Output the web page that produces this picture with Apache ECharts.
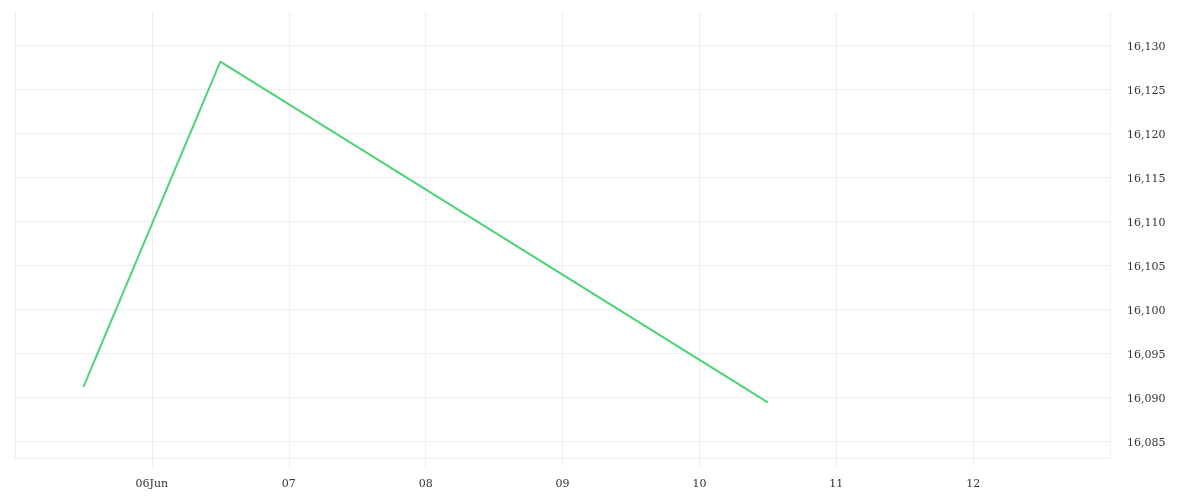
<!DOCTYPE html>
<html>
<head>
<meta charset="utf-8">
<script src="https://cdn.jsdelivr.net/npm/echarts@6/dist/echarts.min.js"></script>
<style>html,body{margin:0;padding:0;background:#fff;}#c{width:1200px;height:500px;}</style>
</head>
<body>
<div id="c"></div>
<script>
// x positions in days of June (12:00 = .5)
const dayPositions = [5.5, 6.5, 10.5];
const prices = [16091.15, 16128.1, 16089.4];
const xTickDays = [5, 6, 7, 8, 9, 10, 11, 12, 13];
const xTickLabels = ['', '06Jun', '07', '08', '09', '10', '11', '12', ''];

const chart = echarts.init(document.getElementById('c'));
const font = 'DejaVu Serif';
chart.setOption({
  animation: false,
  grid: { left: 15, right: 90, top: 12, bottom: 42, containLabel: false },
  xAxis: {
    type: 'value', min: 5, max: 13, interval: 1,
    axisLine: { show: true, lineStyle: { color: '#eeeeee', width: 1 } },
    axisTick: { show: true, inside: false, length: 9, interval: 0, lineStyle: { color: '#eeeeee', width: 1 } },
    splitLine: { show: true, lineStyle: { color: '#eeeeee', width: 1 } },
    axisLabel: {
      color: '#333', fontFamily: font, fontSize: 11, margin: 21,
      showMinLabel: false, showMaxLabel: false,
      formatter: v => { const i = xTickDays.indexOf(Math.round(v)); return i >= 0 ? xTickLabels[i] : ''; }
    }
  },
  yAxis: {
    type: 'value', position: 'right', min: 16083.07, max: 16133.75, splitNumber: 10,
    axisLine: { show: false }, axisTick: { show: false },
    splitLine: { show: true, showMinLine: true, showMaxLine: false, lineStyle: { color: '#eeeeee', width: 1 } },
    axisLabel: {
      color: '#333', fontFamily: font, fontSize: 11, margin: 17,
      showMinLabel: false, showMaxLabel: false,
      formatter: v => '{a|' + Math.round(v).toLocaleString('en-US') + '}',
      rich: { a: { color: '#333', fontFamily: font, fontSize: 11, padding: [5, 0, 0, 0] } }
    }
  },
  series: [{
    type: 'line',
    data: dayPositions.map((d, i) => [d, prices[i]]),
    showSymbol: false, symbol: 'none',
    lineStyle: { color: '#4cd474', width: 2 },
    itemStyle: { color: '#4cd474' }
  }]
});
</script>
</body>
</html>
